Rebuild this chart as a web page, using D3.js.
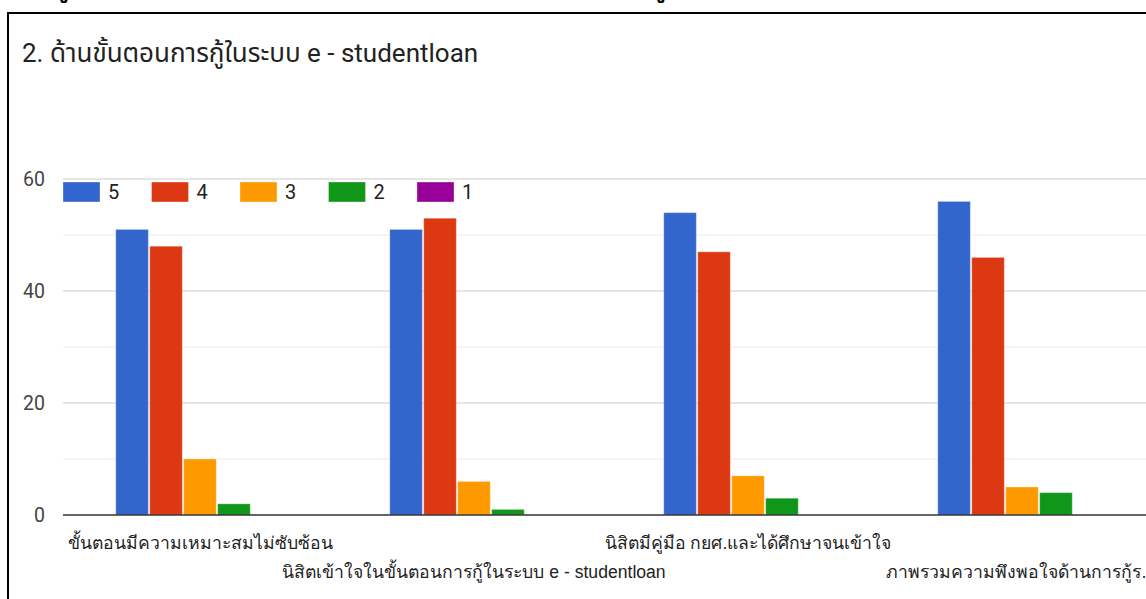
<!DOCTYPE html>
<html>
<head>
<meta charset="utf-8">
<script src="https://cdn.jsdelivr.net/npm/d3@7"></script>
<style>
  html, body { margin: 0; padding: 0; background: #fff; overflow: hidden; }
  svg { display: block; font-family: Roboto, "Noto Sans Thai", "Noto Sans", sans-serif; }
</style>
</head>
<body>
<svg id="chart" width="1146" height="599"></svg>
<script>
// Survey answers per question, counted by rating level
const categories = [
  "ขั้นตอนมีความเหมาะสมไม่ซับซ้อน",
  "นิสิตเข้าใจในขั้นตอนการกู้ในระบบ e - studentloan",
  "นิสิตมีคู่มือ กยศ.และได้ศึกษาจนเข้าใจ",
  "ภาพรวมความพึงพอใจด้านการกู้ร…"
];
const seriesNames = ["5", "4", "3", "2", "1"];
const rating5 = [51, 51, 54, 56];
const rating4 = [48, 53, 47, 46];
const rating3 = [10, 6, 7, 5];
const rating2 = [2, 1, 3, 4];
const rating1 = [0, 0, 0, 0];
const yTicks = [0, 20, 40, 60];
const titleText = "2. ด้านขั้นตอนการกู้ในระบบ e - studentloan";

const seriesValues = [rating5, rating4, rating3, rating2, rating1];
const colors = ["#3366cc", "#dc3912", "#ff9900", "#109618", "#990099"];

const svg = d3.select("#chart");

// lower edge of the page heading line above the card
svg.append("g")
  .attr("font-size", 22).attr("font-weight", "bold").attr("fill", "#000")
  .selectAll("text")
  .data([{ x: 55, t: "กู้" }, { x: 652, t: "กู้" }])
  .join("text")
  .attr("x", d => d.x).attr("y", -3)
  .text(d => d.t);

// frame around the chart card
svg.append("rect")
  .attr("x", 8).attr("y", 13)
  .attr("width", 1200).attr("height", 700)
  .attr("fill", "#fff")
  .attr("stroke", "#000").attr("stroke-width", 2);

svg.append("text")
  .attr("x", 22).attr("y", 62)
  .attr("font-size", 26)
  .attr("fill", "#222")
  .text(titleText);

const plotLeft = 63, plotRight = 1159, plotTop = 179, plotBottom = 515;

const x0 = d3.scaleBand()
  .domain(categories)
  .range([plotLeft, plotRight])
  .paddingInner(0.385)
  .paddingOuter(0.1925);

const x1 = d3.scaleBand()
  .domain(seriesNames)
  .range([0, x0.bandwidth()])
  .paddingInner(0.04);

const y = d3.scaleLinear().domain([0, 60]).range([plotBottom, plotTop]);

// horizontal gridlines: major every 20, minor in between
const gridVals = d3.range(0, 61, 10);
svg.append("g").selectAll("line")
  .data(gridVals.filter(v => v !== 0))
  .join("line")
  .attr("x1", plotLeft).attr("x2", 1146)
  .attr("y1", d => y(d)).attr("y2", d => y(d))
  .attr("stroke", d => d % 20 === 0 ? "#cccccc" : "#ebebeb")
  .attr("stroke-width", 1);

// y axis labels
const yAxis = d3.axisLeft(y).tickValues(yTicks).tickSize(0).tickPadding(0);
const gy = svg.append("g").attr("transform", `translate(${45},0)`).call(yAxis);
gy.select(".domain").remove();
gy.selectAll("text")
  .attr("font-size", 19.5)
  .attr("fill", "#444")
  .attr("font-family", "Roboto, sans-serif")
  .attr("dy", "0.34em");

// grouped bars
const groups = svg.append("g").selectAll("g")
  .data(categories)
  .join("g")
  .attr("transform", d => `translate(${x0(d)},0)`);

groups.selectAll("rect")
  .data((d, i) => seriesNames.map((s, j) => ({ s, v: seriesValues[j][i], c: colors[j] })))
  .join("rect")
  .attr("x", d => x1(d.s))
  .attr("width", x1.bandwidth())
  .attr("y", d => y(d.v))
  .attr("height", d => y(0) - y(d.v))
  .attr("fill", d => d.c)
  .attr("stroke", "#fff")
  .attr("stroke-opacity", 0.35)
  .attr("stroke-width", 1);

// baseline
svg.append("line")
  .attr("x1", plotLeft).attr("x2", 1146)
  .attr("y1", y(0)).attr("y2", y(0))
  .attr("stroke", "#333").attr("stroke-width", 1.5);

// staggered category labels
const xAxis = d3.axisBottom(x0).tickSize(0).tickPadding(0);
const gx = svg.append("g").attr("transform", `translate(0,${plotBottom})`).call(xAxis);
gx.select(".domain").remove();
gx.selectAll("text")
  .attr("font-size", 17.6)
  .attr("fill", "#222")
  .attr("dy", null)
  .attr("y", (d, i) => i % 2 === 0 ? 34 : 63);

// legend
const legend = svg.append("g").selectAll("g")
  .data(seriesNames)
  .join("g")
  .attr("transform", (d, i) => `translate(${63 + i * 88.5},182)`);
legend.append("rect")
  .attr("width", 37).attr("height", 20)
  .attr("fill", (d, i) => colors[i])
  .attr("stroke", "#fff").attr("stroke-opacity", 0.35);
legend.append("text")
  .attr("x", 45).attr("y", 17)
  .attr("font-size", 20)
  .attr("fill", "#222")
  .text(d => d);
</script>
</body>
</html>
